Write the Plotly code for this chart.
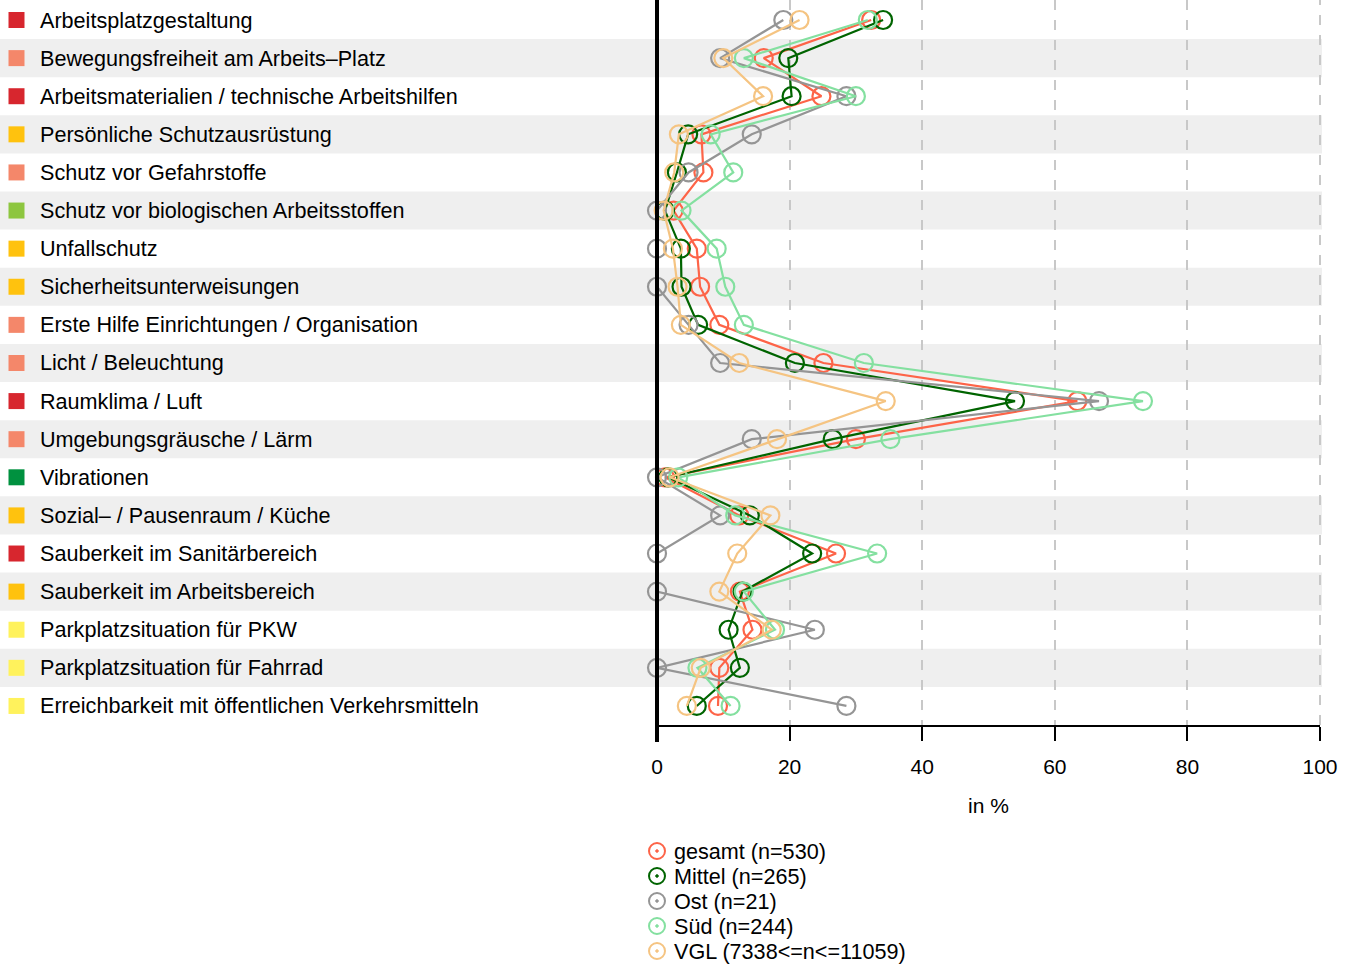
import plotly.graph_objects as go

categories = [
    "Arbeitsplatzgestaltung",
    "Bewegungsfreiheit am Arbeits–Platz",
    "Arbeitsmaterialien / technische Arbeitshilfen",
    "Persönliche Schutzausrüstung",
    "Schutz vor Gefahrstoffe",
    "Schutz vor biologischen Arbeitsstoffen",
    "Unfallschutz",
    "Sicherheitsunterweisungen",
    "Erste Hilfe Einrichtungen / Organisation",
    "Licht / Beleuchtung",
    "Raumklima / Luft",
    "Umgebungsgräusche / Lärm",
    "Vibrationen",
    "Sozial– / Pausenraum / Küche",
    "Sauberkeit im Sanitärbereich",
    "Sauberkeit im Arbeitsbereich",
    "Parkplatzsituation für PKW",
    "Parkplatzsituation für Fahrrad",
    "Erreichbarkeit mit öffentlichen Verkehrsmitteln",
]

category_colors = [
    "#d7262e", "#f4876a", "#d7262e", "#ffc20e", "#f4876a", "#8dc63f",
    "#ffc20e", "#ffc20e", "#f4876a", "#f4876a", "#d7262e", "#f4876a",
    "#00913f", "#ffc20e", "#d7262e", "#ffc20e", "#fff25c", "#fff25c", "#fff25c",
]

gesamt = [32.3, 16.1, 24.8, 6.7, 7.0, 2.5, 6.0, 6.5, 9.4, 25.1, 63.4, 30.0, 1.2, 12.4, 27.0, 12.5, 14.4, 9.4, 9.2]
mittel = [34.1, 19.8, 20.3, 4.7, 3.0, 1.2, 3.6, 3.7, 6.2, 20.8, 54.0, 26.5, 1.7, 14.0, 23.4, 12.9, 10.8, 12.5, 6.0]
ost = [19.05, 9.52, 28.57, 14.29, 4.76, 0, 0, 0, 4.76, 9.52, 66.67, 14.29, 0, 9.52, 0, 0, 23.81, 0, 28.57]
sued = [31.8, 13.1, 30.0, 8.1, 11.5, 3.7, 9.0, 10.3, 13.1, 31.2, 73.3, 35.2, 3.2, 11.8, 33.2, 13.1, 17.8, 6.1, 11.1]
vgl = [21.5, 10.0, 16.0, 3.3, 2.6, 1.0, 2.4, 3.1, 3.6, 12.4, 34.5, 18.1, 1.9, 17.1, 12.1, 9.4, 17.3, 6.6, 4.5]

series_names = ["gesamt (n=530)", "Mittel (n=265)", "Ost (n=21)", "Süd (n=244)", "VGL (7338<=n<=11059)"]
series_values = [gesamt, mittel, ost, sued, vgl]
series_colors = ["#fd6448", "#006400", "#959595", "#84e0a0", "#f5c482"]

x_ticks = [0, 20, 40, 60, 80, 100]

FONT = "Liberation Sans, Arial, Helvetica, sans-serif"
W, H = 1355, 964
ML, MR, MT, MB = 657, 35, 0, 239
PW = W - ML - MR
PH = H - MT - MB

def px_to_paper_x(px):
    return (px - ML) / PW

def px_to_paper_y(py):
    return (H - MB - py) / PH

rows = list(range(len(categories)))

fig = go.Figure()
for name, vals, col in zip(series_names, series_values, series_colors):
    fig.add_trace(go.Scatter(
        x=vals, y=rows, mode="lines+markers", name=name,
        line=dict(color=col, width=2.2),
        marker=dict(symbol="circle-open", size=18, color=col, line=dict(width=2.2, color=col)),
        cliponaxis=False, showlegend=False,
    ))

shapes = []
annotations = []
for i, (cat, ccol) in enumerate(zip(categories, category_colors)):
    if i % 2 == 1:
        shapes.append(dict(type="rect", xref="paper", yref="y",
                           x0=px_to_paper_x(0), x1=px_to_paper_x(1322),
                           y0=i - 0.5, y1=i + 0.5,
                           fillcolor="#efefef", line=dict(width=0), layer="below"))
    shapes.append(dict(type="rect", xref="paper", yref="y",
                       xsizemode="pixel", ysizemode="pixel",
                       xanchor=px_to_paper_x(16.5), yanchor=i,
                       x0=-8, x1=8, y0=-8, y1=8,
                       fillcolor=ccol, line=dict(width=0), layer="above"))
    annotations.append(dict(xref="paper", yref="y", x=px_to_paper_x(38), y=i,
                            text=cat, showarrow=False, xanchor="left", yanchor="middle",
                            font=dict(size=21.6, color="black", family=FONT)))

# dashed gridline at the right edge (100)
shapes.append(dict(type="line", xref="paper", yref="paper", x0=1, x1=1, y0=0, y1=1,
                   line=dict(color="#c8c8c8", width=2, dash="10px,10px"), layer="below"))

# thick vertical line at 0
shapes.append(dict(type="line", xref="paper", yref="paper", x0=0, x1=0,
                   y0=px_to_paper_y(742), y1=1, line=dict(color="black", width=4),
                   layer="above"))

# manual legend
leg_y0 = 851
for k, (name, col) in enumerate(zip(series_names, series_colors)):
    yy = px_to_paper_y(leg_y0 + 25 * k)
    xx = px_to_paper_x(657)
    shapes.append(dict(type="circle", xref="paper", yref="paper",
                       xsizemode="pixel", ysizemode="pixel",
                       xanchor=xx, yanchor=yy, x0=-8, x1=8, y0=-8, y1=8,
                       line=dict(color=col, width=2), fillcolor="rgba(0,0,0,0)"))
    shapes.append(dict(type="circle", xref="paper", yref="paper",
                       xsizemode="pixel", ysizemode="pixel",
                       xanchor=xx, yanchor=yy, x0=-1.3, x1=1.3, y0=-1.3, y1=1.3,
                       line=dict(color=col, width=1), fillcolor=col))
    annotations.append(dict(xref="paper", yref="paper", x=px_to_paper_x(672), y=yy,
                            text=name, showarrow=False, xanchor="left", yanchor="middle",
                            font=dict(size=21.6, color="black", family=FONT)))

fig.update_layout(
    width=W, height=H,
    margin=dict(l=ML, r=MR, t=MT, b=MB, pad=0),
    paper_bgcolor="white", plot_bgcolor="white",
    font=dict(family=FONT, size=21, color="black"),
    showlegend=False,
    shapes=shapes, annotations=annotations,
    xaxis=dict(range=[0, 100], tickvals=x_ticks, ticktext=[str(t) for t in x_ticks],
               showline=True, linecolor="black", linewidth=2, mirror=False,
               ticks="outside", ticklen=14, tickwidth=2, tickcolor="black",
               ticklabelstandoff=8,
               tickfont=dict(size=21, color="black", family=FONT),
               showgrid=True, gridcolor="#c8c8c8", gridwidth=2, griddash="10px,10px",
               zeroline=False,
               title=dict(text="in %", font=dict(size=21, color="black", family=FONT), standoff=21)),
    yaxis=dict(range=[len(categories) - 0.5, -0.525], showticklabels=False,
               showgrid=False, zeroline=False, showline=False, ticks=""),
)

fig.write_html("out.html", config={"displayModeBar": False},
               post_script="document.body.style.margin='0';")
